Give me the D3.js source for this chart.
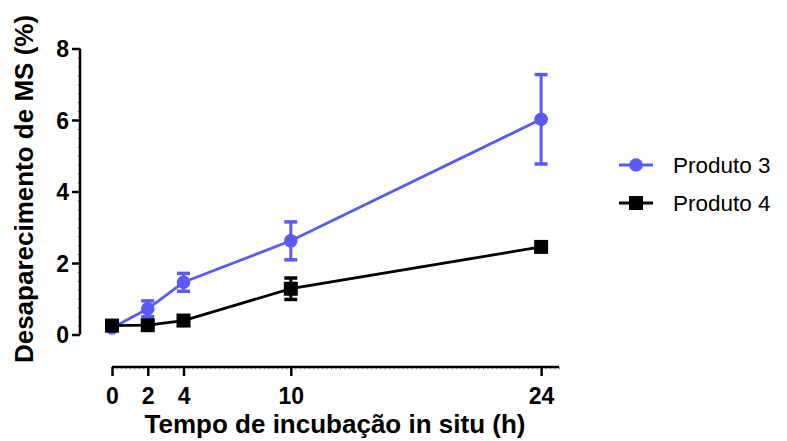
<!DOCTYPE html>
<html><head><meta charset="utf-8">
<script src="https://cdn.jsdelivr.net/npm/d3@7"></script>
<style>body{margin:0;background:#fff}svg{display:block}</style>
</head><body>
<svg id="c" width="787" height="441"></svg>
<script>
const hours = [0, 2, 4, 10, 24];
const produto3 = [0.18, 0.72, 1.46, 2.62, 6.02];
const produto3Err = [0.0, 0.22, 0.25, 0.53, 1.25];
const produto4 = [0.25, 0.26, 0.39, 1.28, 2.45];
const produto4Err = [0.0, 0.0, 0.0, 0.3, 0.0];
const seriesNames = ["Produto 3", "Produto 4"];
const yTicks = [0, 2, 4, 6, 8];
const xTicks = [0, 2, 4, 10, 24];
const xTitle = "Tempo de incubação in situ (h)";
const yTitle = "Desaparecimento de MS (%)";

const blue = "#5a5af5", black = "#000";
const svg = d3.select("#c");
const font = "Liberation Sans, Arial, sans-serif";
const x = d3.scaleLinear().domain([0, 25]).range([112, 559]);
const y = d3.scaleLinear().domain([0, 8]).range([334.5, 48.5]);

// Y axis
const yMinor = svg.append("g").attr("transform", "translate(80,0)")
  .call(d3.axisLeft(y).tickValues(d3.range(0, 8.01, 0.25)).tickSize(2.5).tickFormat(""));
yMinor.select(".domain").remove();
const yAxis = svg.append("g").attr("transform", "translate(80,0)")
  .call(d3.axisLeft(y).tickValues(yTicks).tickSize(8).tickPadding(3).tickFormat(d3.format("d")));
// X axis
const xMinor = svg.append("g").attr("transform", "translate(0,367)")
  .call(d3.axisBottom(x).tickValues(d3.range(0, 25.01, 0.25)).tickSize(2.5).tickFormat(""));
xMinor.select(".domain").remove();
const xAxis = svg.append("g").attr("transform", "translate(0,367)")
  .call(d3.axisBottom(x).tickValues(xTicks).tickSize(9).tickPadding(11).tickFormat(d3.format("d")));
[yAxis, xAxis].forEach(g => {
  g.attr("font-size", 23).attr("font-family", font);
  g.selectAll("path,line").attr("stroke", "#000").attr("stroke-width", 2.5);
  g.selectAll("text").attr("font-family", font).attr("font-weight", "bold")
    .attr("font-size", 23).attr("fill", "#000");
});
[yMinor, xMinor].forEach(g => g.selectAll("line").attr("stroke", "#777").attr("stroke-width", 0.8));
xAxis.select(".domain").attr("d", `M${x(0)},0H${x(25)}`);
yAxis.select(".domain").attr("d", `M0,${y(0)}V${y(8)}`);
yAxis.selectAll("text").attr("dy", "0.36em");
xAxis.selectAll("text").attr("dy", "0.72em");

// Titles
svg.append("text").attr("x", 335).attr("y", 433).attr("text-anchor", "middle")
  .attr("font-family", font).attr("font-weight", "bold").attr("font-size", 26).text(xTitle);
svg.append("text").attr("transform", "translate(33,189) rotate(-90)").attr("text-anchor", "middle")
  .attr("font-family", font).attr("font-weight", "bold").attr("font-size", 26).text(yTitle);

function drawSeries(vals, errs, color, shape) {
  const data = hours.map((h, i) => ({h, v: vals[i], e: errs[i]}));
  const g = svg.append("g");
  g.append("path").datum(data)
    .attr("d", d3.line().x(d => x(d.h)).y(d => y(d.v)))
    .attr("fill", "none").attr("stroke", color).attr("stroke-width", 2.8);
  const eb = g.selectAll(".eb").data(data.filter(d => d.e > 0)).join("g");
  eb.append("line").attr("x1", d => x(d.h)).attr("x2", d => x(d.h))
    .attr("y1", d => y(d.v + d.e)).attr("y2", d => y(d.v - d.e))
    .attr("stroke", color).attr("stroke-width", 3);
  [1, -1].forEach(s => eb.append("line")
    .attr("x1", d => x(d.h) - 6.5).attr("x2", d => x(d.h) + 6.5)
    .attr("y1", d => y(d.v + s * d.e)).attr("y2", d => y(d.v + s * d.e))
    .attr("stroke", color).attr("stroke-width", 3.5));
  if (shape === "circle") {
    g.selectAll(".m").data(data).join("circle")
      .attr("cx", d => x(d.h)).attr("cy", d => y(d.v)).attr("r", 6.8).attr("fill", color);
  } else {
    g.selectAll(".m").data(data).join("rect")
      .attr("x", d => x(d.h) - 7).attr("y", d => y(d.v) - 7).attr("width", 14).attr("height", 14).attr("fill", color);
  }
}
drawSeries(produto3, produto3Err, blue, "circle");
drawSeries(produto4, produto4Err, black, "square");

// Legend
const leg = [{n: seriesNames[0], c: blue, s: "circle", yy: 165}, {n: seriesNames[1], c: black, s: "square", yy: 203}];
leg.forEach(l => {
  svg.append("line").attr("x1", 619).attr("x2", 653).attr("y1", l.yy).attr("y2", l.yy)
    .attr("stroke", l.c).attr("stroke-width", 2.8);
  if (l.s === "circle") svg.append("circle").attr("cx", 636).attr("cy", l.yy).attr("r", 6.8).attr("fill", l.c);
  else svg.append("rect").attr("x", 629).attr("y", l.yy - 7).attr("width", 14).attr("height", 14).attr("fill", l.c);
  svg.append("text").attr("x", 673).attr("y", l.yy + 8).attr("font-family", font).attr("font-size", 22.5).text(l.n);
});
</script>
</body></html>
